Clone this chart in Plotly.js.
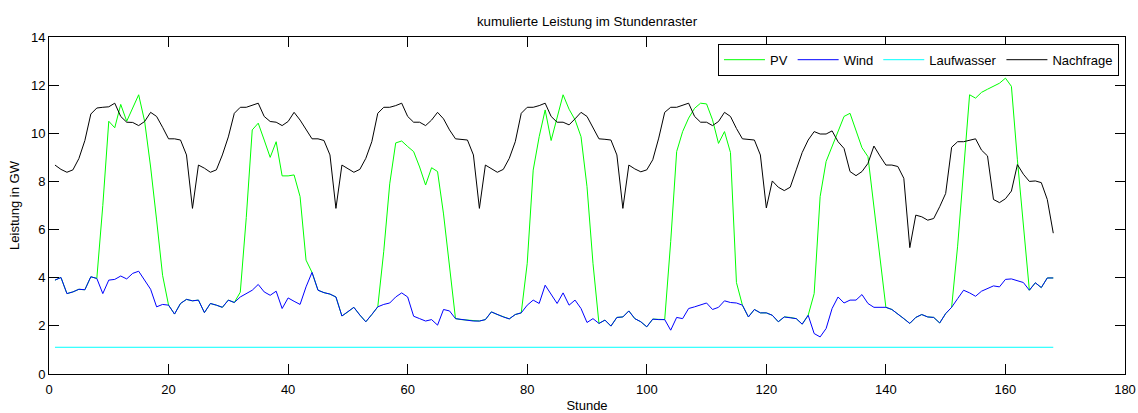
<!DOCTYPE html>
<html>
<head>
<meta charset="utf-8">
<script src="https://cdn.plot.ly/plotly-3.0.1.min.js"></script>
<style>
  html, body { margin: 0; padding: 0; background: #ffffff; }
  #chart { width: 1138px; height: 413px; }
</style>
</head>
<body>
<div id="chart"></div>
<script>
// Hours of the week (1..168)
const stunden = Array.from({length: 168}, (_, i) => i + 1);

// Run-of-river output, constant over the week (GW)
const laufwasserLeistung = 1.11;

// Wind output, cumulated on top of run-of-river (GW), one row per day
const wind = [
  3.9, 4.01, 3.34, 3.41, 3.52, 3.5, 4.04, 3.97, 3.34, 3.9, 3.93, 4.07, 3.95, 4.18, 4.27, 3.9, 3.52, 2.79, 2.89, 2.86, 2.49, 2.93, 3.1, 3.04,
  3.07, 2.55, 2.93, 2.86, 2.77, 3.07, 2.97, 3.2, 3.34, 3.48, 3.72, 3.41, 3.27, 3.44, 2.72, 3.16, 3.02, 2.89, 3.62, 4.22, 3.48, 3.38, 3.32, 3.2,
  2.41, 2.58, 2.77, 2.45, 2.17, 2.47, 2.79, 2.89, 2.95, 3.2, 3.37, 3.2, 2.4, 2.3, 2.2, 2.26, 2.03, 2.68, 2.62, 2.3, 2.26, 2.24, 2.2, 2.2,
  2.26, 2.58, 2.47, 2.37, 2.29, 2.47, 2.54, 2.86, 3.07, 2.93, 3.69, 3.32, 2.93, 3.37, 2.86, 3.07, 2.72, 2.14, 2.3, 2.1, 2.24, 1.99, 2.35, 2.37,
  2.62, 2.3, 2.17, 1.96, 2.28, 2.26, 2.26, 1.82, 2.35, 2.3, 2.72, 2.79, 2.86, 2.95, 2.68, 2.77, 3.04, 2.97, 2.95, 2.86, 2.37, 2.68, 2.54, 2.54,
  2.44, 2.17, 2.37, 2.35, 2.3, 2.07, 2.44, 1.68, 1.54, 1.89, 2.72, 3.2, 2.95, 3.07, 3.07, 3.3, 2.93, 2.77, 2.77, 2.77, 2.68, 2.47, 2.3, 2.1,
  2.35, 2.47, 2.37, 2.35, 2.12, 2.51, 2.77, 3.13, 3.48, 3.37, 3.23, 3.44, 3.55, 3.66, 3.62, 3.93, 3.95, 3.88, 3.8, 3.48, 3.79, 3.59, 3.99, 3.99
];

// PV feed-in per hour (GW), added on top of the wind curve
const pv = [
  0, 0, 0, 0, 0, 0, 0, 0, 3.66, 6.6, 6.3, 7.13, 6.55, 6.86, 7.33, 6.6, 5.08, 3.61, 1.21, 0, 0, 0, 0, 0,
  0, 0, 0, 0, 0, 0, 0, 0.2, 3.16, 6.66, 6.7, 6.31, 5.73, 6.21, 5.51, 5.07, 5.25, 4.48, 1.11, 0, 0, 0, 0, 0,
  0, 0, 0, 0, 0, 0, 0, 2.21, 4.95, 6.4, 6.31, 6.25, 6.84, 6.3, 5.65, 6.31, 6.38, 3.97, 1.91, 0, 0, 0, 0, 0,
  0, 0, 0, 0, 0, 0, 0, 1.74, 5.4, 6.93, 7.28, 6.38, 7.77, 8.23, 8.14, 7.49, 7.14, 5.64, 2.3, 0, 0, 0, 0, 0,
  0, 0, 0, 0, 0, 0, 0, 3.68, 6.89, 7.77, 7.91, 8.25, 8.39, 8.27, 7.88, 6.81, 7.03, 6.23, 0.85, 0, 0, 0, 0, 0,
  0, 0, 0, 0, 0, 0, 0, 1.66, 5.83, 6.94, 6.73, 6.87, 7.75, 7.76, 7.0, 6.1, 6.1, 4.18, 1.96, 0, 0, 0, 0, 0,
  0, 0, 0, 0, 0, 0, 0, 2.18, 4.91, 8.23, 8.23, 8.26, 8.28, 8.28, 8.46, 8.36, 8.0, 5.02, 2.3, 0, 0, 0, 0, 0
];

// Demand (GW)
const nachfrage = [
  8.68, 8.5, 8.38, 8.48, 8.95, 9.7, 10.8, 11.05, 11.08, 11.1, 11.25, 10.7, 10.46, 10.45, 10.32, 10.49, 10.87, 10.7, 10.25, 9.77, 9.77, 9.72, 9.1, 6.88,
  8.68, 8.55, 8.38, 8.48, 9.1, 9.85, 10.83, 11.08, 11.08, 11.15, 11.25, 10.7, 10.49, 10.46, 10.32, 10.49, 10.87, 10.55, 10.14, 9.77, 9.77, 9.7, 9.1, 6.88,
  8.68, 8.52, 8.38, 8.5, 8.96, 9.65, 10.83, 11.08, 11.08, 11.15, 11.25, 10.7, 10.46, 10.46, 10.32, 10.55, 10.87, 10.6, 10.14, 9.77, 9.75, 9.72, 9.1, 6.88,
  8.68, 8.52, 8.38, 8.5, 8.96, 9.65, 10.83, 11.08, 11.08, 11.15, 11.25, 10.7, 10.46, 10.46, 10.35, 10.6, 10.87, 10.7, 10.2, 9.77, 9.75, 9.72, 9.1, 6.88,
  8.68, 8.52, 8.4, 8.48, 8.9, 9.8, 10.87, 11.08, 11.08, 11.15, 11.25, 10.7, 10.46, 10.46, 10.32, 10.49, 10.87, 10.7, 10.2, 9.77, 9.75, 9.72, 9.1, 6.9,
  8.02, 7.76, 7.62, 7.76, 8.48, 9.2, 9.72, 10.07, 9.97, 9.97, 10.1, 9.65, 9.37, 8.41, 8.24, 8.41, 8.75, 9.47, 9.06, 8.68, 8.68, 8.62, 8.13, 5.25,
  6.6, 6.53, 6.39, 6.46, 6.95, 7.5, 9.42, 9.65, 9.65, 9.7, 9.77, 9.3, 9.06, 7.25, 7.12, 7.28, 7.6, 8.7, 8.3, 8.0, 8.02, 7.95, 7.25, 5.85
];

// Cumulated curves: PV sits on top of wind
const pvKumuliert = wind.map((w, i) => +(w + pv[i]).toFixed(3));
const laufwasser = stunden.map(() => laufwasserLeistung);

const FONT = '"Liberation Sans", Arial, Helvetica, sans-serif';
const TEXT = {family: FONT, size: 13, color: '#000'};

const traces = [
  {x: stunden, y: pvKumuliert, name: 'PV', mode: 'lines', line: {color: '#00ff00', width: 1}},
  {x: stunden, y: wind, name: 'Wind', mode: 'lines', line: {color: '#0000ff', width: 1}},
  {x: stunden, y: laufwasser, name: 'Laufwasser', mode: 'lines', line: {color: '#00ffff', width: 1}},
  {x: stunden, y: nachfrage, name: 'Nachfrage', mode: 'lines', line: {color: '#000000', width: 1}}
];

const achse = {
  ticks: 'inside', ticklen: 10, tickwidth: 1, tickcolor: '#000',
  showline: true, linecolor: '#000', linewidth: 1, mirror: 'ticks',
  showgrid: false, zeroline: false,
  tickfont: TEXT
};

const layout = {
  width: 1138, height: 413,
  margin: {l: 49, r: 13, t: 37, b: 39, pad: 0},
  paper_bgcolor: '#ffffff', plot_bgcolor: '#ffffff',
  font: TEXT,
  title: {
    text: 'kumulierte Leistung im Stundenraster',
    font: {family: FONT, size: 13.3, color: '#000'},
    xref: 'paper', x: 0.5, xanchor: 'center',
    yref: 'container', y: 1 - 21.5 / 413, yanchor: 'middle'
  },
  xaxis: Object.assign({}, achse, {
    range: [0, 180], tick0: 0, dtick: 20,
    ticklabelstandoff: 3,
    title: {text: 'Stunde', font: TEXT, standoff: 8}
  }),
  yaxis: Object.assign({}, achse, {
    range: [0, 14], tick0: 0, dtick: 2,
    title: {text: 'Leistung in GW', font: TEXT, standoff: 8}
  }),
  showlegend: true,
  legend: {
    orientation: 'h',
    x: 0.9944, xanchor: 'right', y: 0.98, yanchor: 'top',
    bgcolor: '#ffffff', bordercolor: '#000', borderwidth: 1,
    font: TEXT,
    itemwidth: 41, traceorder: 'normal'
  }
};

Plotly.newPlot('chart', traces, layout, {displayModeBar: false, staticPlot: true});
</script>
</body>
</html>
